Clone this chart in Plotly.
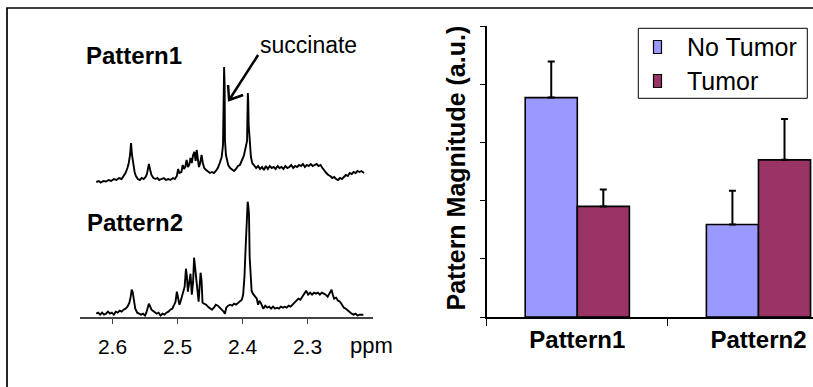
import plotly.graph_objects as go

W, H = 813, 387
FONT = "Arial, Liberation Sans, sans-serif"

# ---------------- spectra data (ppm, intensity a.u.) ----------------
ppm1 = [2.625, 2.621, 2.618, 2.614, 2.610, 2.606, 2.602, 2.598, 2.594, 2.590, 2.586, 2.583, 2.580, 2.577, 2.575,
        2.573, 2.5715, 2.570, 2.568, 2.566, 2.564, 2.561, 2.558, 2.555, 2.552, 2.549, 2.547, 2.545, 2.544, 2.542,
        2.540, 2.537, 2.534, 2.531, 2.528, 2.525, 2.521, 2.518, 2.514, 2.511, 2.507, 2.504, 2.501, 2.499, 2.497,
        2.494, 2.492, 2.490, 2.488, 2.486, 2.484, 2.482, 2.480, 2.478, 2.476, 2.474, 2.472, 2.4705, 2.469, 2.467,
        2.465, 2.463, 2.461, 2.459, 2.456, 2.453, 2.450, 2.447, 2.444, 2.441, 2.438, 2.435, 2.432, 2.430, 2.4288,
        2.4283, 2.4275, 2.427, 2.4255, 2.424, 2.422, 2.419, 2.416, 2.413, 2.410, 2.407, 2.404, 2.401, 2.398, 2.395,
        2.393, 2.3918, 2.3912, 2.3905, 2.389, 2.387, 2.385, 2.382, 2.379, 2.376, 2.373, 2.370, 2.367, 2.364, 2.361,
        2.358, 2.355, 2.352, 2.349, 2.346, 2.343, 2.340, 2.337, 2.334, 2.331, 2.328, 2.325, 2.322, 2.319, 2.316,
        2.313, 2.310, 2.307, 2.304, 2.301, 2.298, 2.295, 2.292, 2.289, 2.286, 2.283, 2.280, 2.277, 2.274, 2.271,
        2.268, 2.265, 2.262, 2.259, 2.256, 2.253, 2.250, 2.247, 2.244, 2.241, 2.238, 2.235, 2.232, 2.229, 2.226,
        2.223, 2.220, 2.217, 2.213]
int1 = [3, 4, 2.5, 4, 3.5, 5, 4, 6, 5, 7, 6, 9, 12, 17, 22,
        30, 42, 30, 20, 13, 9, 6, 5, 7, 6, 8, 11, 18, 21, 15,
        10, 7, 6, 7, 5, 6, 7, 5, 6, 5, 7, 6, 9, 16, 12,
        13, 20, 16, 18, 25, 18, 20, 27, 22, 30, 33, 24, 35, 26, 18,
        22, 30, 22, 17, 15, 13, 12, 13, 12, 14, 17, 22, 28, 40, 80,
        118, 100, 45, 30, 25, 20, 17, 15, 14, 16, 19, 20, 24, 29, 38,
        44, 92, 85, 60, 45, 28, 22, 20, 17, 19, 16, 18, 15, 19, 16,
        19, 17, 18, 16, 19, 17, 18, 16, 19, 17, 18, 20, 17, 19, 18,
        20, 19, 21, 18, 20, 19, 21, 19, 20, 21, 19, 20, 17, 14, 12,
        10, 9, 7, 8, 6, 5, 7, 6, 8, 10, 9, 12, 11, 13, 12,
        14, 13, 14, 12]

ppm2 = [2.625, 2.622, 2.619, 2.616, 2.613, 2.610, 2.607, 2.604, 2.601, 2.598, 2.595, 2.592, 2.589, 2.586, 2.583,
        2.580, 2.577, 2.574, 2.572, 2.5705, 2.569, 2.567, 2.565, 2.562, 2.559, 2.556, 2.553, 2.550, 2.548, 2.546,
        2.544, 2.542, 2.540, 2.538, 2.535, 2.532, 2.529, 2.526, 2.523, 2.520, 2.517, 2.514, 2.511, 2.508, 2.505,
        2.503, 2.501, 2.499, 2.497, 2.495, 2.492, 2.489, 2.487, 2.4855, 2.484, 2.482, 2.480, 2.478, 2.476, 2.4745,
        2.473, 2.471, 2.469, 2.4675, 2.466, 2.4645, 2.463, 2.4615, 2.459, 2.456, 2.453, 2.450, 2.447, 2.444, 2.441,
        2.438, 2.435, 2.432, 2.429, 2.427, 2.425, 2.422, 2.419, 2.416, 2.413, 2.410, 2.407, 2.404, 2.401, 2.399,
        2.397, 2.395, 2.3935, 2.392, 2.391, 2.390, 2.389, 2.3875, 2.386, 2.384, 2.381, 2.378, 2.376, 2.374, 2.372,
        2.370, 2.368, 2.365, 2.362, 2.359, 2.356, 2.353, 2.350, 2.347, 2.344, 2.341, 2.338, 2.335, 2.332, 2.329,
        2.326, 2.323, 2.320, 2.317, 2.314, 2.311, 2.308, 2.305, 2.302, 2.299, 2.296, 2.293, 2.290, 2.287, 2.284,
        2.281, 2.278, 2.275, 2.272, 2.269, 2.266, 2.263, 2.261, 2.259, 2.256, 2.253, 2.250, 2.247, 2.244, 2.241,
        2.238, 2.235, 2.232, 2.229, 2.226, 2.223, 2.220, 2.217, 2.214]
int2 = [3, 4, 2, 4, 2, 3, 5, 3, 4, 2, 5, 4, 6, 5, 7,
        8, 10, 14, 20, 27, 25, 15, 8, 4, 3, 2, 3, 1, 4, 9,
        13, 10, 7, 6, 4, 3, 4, 1, 3, 2, 4, 5, 7, 8, 12,
        15, 25, 18, 12, 16, 24, 30, 48, 40, 25, 32, 43, 22, 35, 59,
        50, 38, 20, 15, 30, 44, 36, 14, 13, 12, 10, 8, 7, 9, 12,
        11, 9, 8, 5, 3, 9, 11, 12, 11, 13, 12, 14, 15, 17, 22,
        40, 72, 100, 115, 110, 102, 60, 33, 26, 23, 20, 18, 12, 16, 14,
        10, 8, 11, 9, 10, 8, 10, 8, 9, 8, 10, 9, 10, 9, 11,
        10, 12, 14, 15, 18, 17, 20, 23, 26, 22, 24, 22, 24, 23, 24,
        22, 24, 23, 22, 20, 23, 27, 22, 18, 19, 16, 15, 12, 9, 8,
        6, 5, 3, 2, 3, 1, 2, 2, 2]

ppm_ticks = [2.6, 2.5, 2.4, 2.3]
ppm_tick_labels = ["2.6", "2.5", "2.4", "2.3"]

# ---------------- bar chart data ----------------
categories = ["Pattern1", "Pattern2"]
no_tumor = [3.77, 1.59]
no_tumor_err = [0.62, 0.58]
tumor = [1.90, 2.70]
tumor_err = [0.29, 0.70]
series_names = ["No Tumor", "Tumor"]
colors = ["#9999FF", "#993366"]


def px(x):
    return x / W


def py(y):
    return 1 - y / H


fig = go.Figure()

fig.add_trace(go.Scatter(x=ppm1, y=int1, mode="lines", xaxis="x", yaxis="y2",
                         line=dict(color="black", width=1.9), showlegend=False, hoverinfo="skip"))
fig.add_trace(go.Scatter(x=ppm2, y=int2, mode="lines", xaxis="x", yaxis="y",
                         line=dict(color="black", width=1.9), showlegend=False, hoverinfo="skip"))

for name, vals, errs, col in [(series_names[0], no_tumor, no_tumor_err, colors[0]),
                              (series_names[1], tumor, tumor_err, colors[1])]:
    fig.add_trace(go.Bar(x=categories, y=vals, name=name, xaxis="x2", yaxis="y3",
                         marker=dict(color=col, line=dict(color="black", width=1.6)),
                         error_y=dict(type="data", symmetric=False, array=errs, arrayminus=[0, 0],
                                      color="black", thickness=2, width=3.5),
                         showlegend=False))

fig.update_layout(
    width=W, height=H, margin=dict(l=0, r=0, t=0, b=0),
    paper_bgcolor="white", plot_bgcolor="rgba(0,0,0,0)",
    font=dict(family=FONT, color="black"),
    barmode="group", bargap=0.425, bargroupgap=0,
    xaxis=dict(domain=[px(80), px(372.5)], range=[2.65, 2.2], anchor="y",
               showline=True, linecolor="#444", linewidth=1.5, showgrid=False, zeroline=False,
               ticks="outside", ticklen=6, tickwidth=1.3, tickcolor="#444",
               tickvals=ppm_ticks, ticktext=ppm_tick_labels, tickfont=dict(size=21, family=FONT),
               ticklabelstandoff=4),
    yaxis=dict(domain=[py(316.7), py(196)], range=[0, 120.7], visible=False, anchor="x"),
    yaxis2=dict(domain=[py(185), py(35)], range=[0, 150], visible=False, anchor="x"),
    xaxis2=dict(domain=[px(486.7), 1], range=[-0.5, 1.301], anchor="y3", type="category",
                showline=True, linecolor="black", linewidth=1.5, showgrid=False, zeroline=False,
                ticks="outside", tickson="boundaries", ticklen=7, tickwidth=1.3, tickcolor="black",
                tickfont=dict(size=24, family=FONT, weight="bold")),
    yaxis3=dict(domain=[py(317), py(26)], range=[0, 5], anchor="x2", dtick=1,
                showline=True, linecolor="black", linewidth=1.5, showgrid=False, zeroline=False,
                ticks="outside", ticklen=5, tickwidth=1.3, tickcolor="black", showticklabels=False),
)

shapes = [
    # outer frame
    dict(type="rect", xref="paper", yref="paper", x0=px(7), x1=1.05, y0=-0.05, y1=py(8),
         line=dict(color="black", width=1.7), fillcolor="rgba(0,0,0,0)"),
    # legend box
    dict(type="rect", xref="paper", yref="paper", x0=px(638.3), x1=px(807.3), y0=py(98.3), y1=py(28.3),
         line=dict(color="black", width=1), fillcolor="white"),
    dict(type="rect", xref="paper", yref="paper", x0=px(653.5), x1=px(661.5), y0=py(53.5), y1=py(40.5),
         line=dict(color="black", width=1.2), fillcolor=colors[0]),
    dict(type="rect", xref="paper", yref="paper", x0=px(653.5), x1=px(661.5), y0=py(87.5), y1=py(74.5),
         line=dict(color="black", width=1.2), fillcolor=colors[1]),
    # arrow to succinate peak
    dict(type="path", xref="x", yref="y2",
         path="M 2.376,130 L 2.4206,85 M 2.4222,100 L 2.4206,85 L 2.399,90",
         line=dict(color="black", width=2.5)),
]

annotations = [
    dict(text="<b>Pattern1</b>", x=px(133.5), y=py(55), font=dict(size=24)),
    dict(text="<b>Pattern2</b>", x=px(135), y=py(222.5), font=dict(size=24)),
    dict(text="succinate", x=px(308), y=py(45), font=dict(size=23)),
    dict(text="ppm", x=px(371.5), y=py(345.5), font=dict(size=22)),
    dict(text="<b>Pattern Magnitude (a.u.)</b>", x=px(456), y=py(167.5), textangle=-90, font=dict(size=25)),
    dict(text="No Tumor", x=px(685), y=py(46.7), xanchor="left", font=dict(size=25)),
    dict(text="Tumor", x=px(685), y=py(80.5), xanchor="left", font=dict(size=25)),
]
for a in annotations:
    a.setdefault("xanchor", "center")
    a.update(xref="paper", yref="paper", yanchor="middle", showarrow=False)
    a["font"].update(family=FONT, color="black")

fig.update_layout(shapes=shapes, annotations=annotations)
fig.write_html("out.html", config={"displayModeBar": False},
               post_script="document.body.style.margin='0';document.body.style.overflow='hidden';")
